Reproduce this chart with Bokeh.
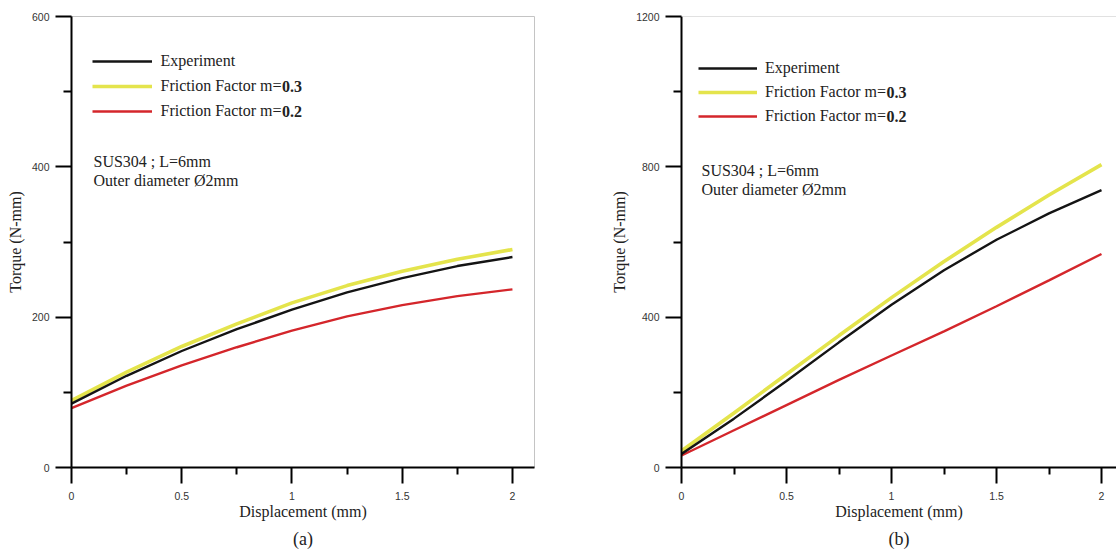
from bokeh.plotting import figure
from bokeh.layouts import row
from bokeh.models import (Range1d, Legend, LegendItem, Label, Span, FixedTicker,
                          NumeralTickFormatter, Title)
from bokeh.embed import file_html
from bokeh.resources import INLINE

# ---------------- data ----------------
disp = [0, 0.25, 0.5, 0.75, 1.0, 1.25, 1.5, 1.75, 2.0]

a_experiment = [85, 122, 155, 184, 210, 233, 252, 268, 280]
a_m03 = [89, 127, 161, 191, 219, 242, 261, 277, 290]
a_m02 = [79, 109, 136, 160, 182, 201, 216, 228, 237]

b_experiment = [36, 130, 230, 333, 433, 525, 606, 676, 738]
b_m03 = [44, 145, 248, 351, 452, 548, 639, 725, 806]
b_m02 = [32, 99, 166, 233, 298, 362, 429, 498, 568]

x_major = [0, 0.5, 1, 1.5, 2]
x_minor = [0.25, 0.75, 1.25, 1.75]
a_y_major = [0, 200, 400, 600]
a_y_minor = [100, 300, 500]
b_y_major = [0, 400, 800, 1200]
b_y_minor = [200, 600, 1000]

series_names = ["Experiment", "Friction Factor m=", "Friction Factor m="]
bold_parts = ["0.3", "0.2"]
note_lines = ["SUS304 ; L=6mm", "Outer diameter \u00d82mm"]
x_title = "Displacement (mm)"
y_title = "Torque (N-mm)"

BLACK = "#141414"
YELLOW = "#e4e44c"
RED = "#d4262b"
SERIF = "Liberation Serif"
SANS = "Liberation Sans"


def style_axes(p, ymaj, ymin):
    p.xaxis.ticker = FixedTicker(ticks=x_major, minor_ticks=x_minor)
    p.xaxis.formatter = NumeralTickFormatter(format="0.[0]")
    p.yaxis.ticker = FixedTicker(ticks=ymaj, minor_ticks=ymin)
    for ax in (p.xaxis[0], p.yaxis[0]):
        ax.axis_line_width = 2
        ax.axis_line_color = "black"
        ax.major_tick_line_width = 2
        ax.minor_tick_line_width = 2
        ax.major_tick_line_color = "black"
        ax.minor_tick_line_color = "black"
        ax.major_tick_in = 0
        ax.minor_tick_in = 0
        ax.major_tick_out = 16
        ax.major_label_text_font = SANS
        ax.major_label_text_font_size = "10.5px"
        ax.major_label_text_color = "#333333"
        ax.axis_label_text_font = SERIF
        ax.axis_label_text_font_size = "16px"
        ax.axis_label_text_font_style = "normal"
        ax.axis_label_text_color = "#222222"
    p.xaxis.minor_tick_out = 7
    p.yaxis.minor_tick_out = 8
    p.xaxis.major_label_standoff = 8
    p.xaxis.axis_label_standoff = 0
    p.yaxis.major_label_standoff = 6
    p.yaxis.axis_label_standoff = 5
    p.xaxis.axis_label = x_title
    p.yaxis.axis_label = y_title
    p.xgrid.visible = False
    p.ygrid.visible = False


def make_panel(width, left_border, right_border, xend, yend, ymaj, ymin,
               exp, m03, m02, leg_x, leg_y, leg_w, leg_standoff, leg_spacing,
               note_x, note_y1, note_y2, tag, outline):
    p = figure(width=width, height=554, output_backend="svg", toolbar_location=None,
               x_range=Range1d(0, xend), y_range=Range1d(0, yend),
               min_border_left=left_border, min_border_right=right_border,
               min_border_top=16, min_border_bottom=87)
    p.background_fill_color = "white"
    p.border_fill_color = "white"
    if outline:
        p.outline_line_color = "#c4c4c4"
        p.outline_line_width = 1
    else:
        p.outline_line_color = None
        p.add_layout(Span(location=yend, dimension="width", line_color="#c4c4c4", line_width=1))
    style_axes(p, ymaj, ymin)

    r_exp = p.line(disp, exp, line_color=BLACK, line_width=2.4)
    r_m03 = p.line(disp, m03, line_color=YELLOW, line_width=3.6)
    r_m02 = p.line(disp, m02, line_color=RED, line_width=2.4)
    p.renderers = [r_m03, r_m02, r_exp]

    legend = Legend(items=[LegendItem(label=series_names[0], renderers=[r_exp]),
                           LegendItem(label=series_names[1], renderers=[r_m03]),
                           LegendItem(label=series_names[2], renderers=[r_m02])],
                    location=(leg_x, leg_y), padding=0, margin=0,
                    glyph_width=leg_w, glyph_height=20, label_height=20,
                    spacing=leg_spacing, label_standoff=leg_standoff,
                    border_line_color=None, background_fill_alpha=0,
                    label_text_font=SERIF, label_text_font_size="16px",
                    label_text_color="#222222")
    p.add_layout(legend)

    text_w = 121.0  # width of "Friction Factor m=" at 16px Liberation Serif
    legend_top = leg_y + 3 * 20 + 2 * leg_spacing
    for i, bp in enumerate(bold_parts):
        yc = legend_top - 10 - (i + 1) * (20 + leg_spacing)
        p.add_layout(Label(x=leg_x + leg_w + leg_standoff + text_w, y=yc,
                           x_units="screen", y_units="screen", text=bp,
                           text_font=SERIF, text_font_size="16px", text_font_style="bold",
                           text_baseline="middle", text_color="#222222"))

    for txt, yy in zip(note_lines, (note_y1, note_y2)):
        p.add_layout(Label(x=note_x, y=yy, x_units="screen", y_units="screen", text=txt,
                           text_font=SERIF, text_font_size="16px",
                           text_baseline="middle", text_color="#222222"))

    p.add_layout(Title(text=tag, align="center", text_font=SERIF, text_font_size="18px",
                       text_font_style="normal", text_color="#222222", standoff=8),
                 "below")
    return p


pa = make_panel(556, 71, 22, 2.1, 600, a_y_major, a_y_minor,
                a_experiment, a_m03, a_m02,
                leg_x=20.5, leg_y=346, leg_w=60, leg_standoff=9, leg_spacing=5,
                note_x=22, note_y1=306, note_y2=287, tag="(a)", outline=True)
pb = make_panel(560, 125, 0, 435 / 210, 1200, b_y_major, b_y_minor,
                b_experiment, b_m03, b_m02,
                leg_x=17, leg_y=341, leg_w=59, leg_standoff=8, leg_spacing=4,
                note_x=20, note_y1=297, note_y2=278, tag="(b)", outline=False)

layout = row(pa, pb)
open("out.html", "w").write(file_html(layout, INLINE))
